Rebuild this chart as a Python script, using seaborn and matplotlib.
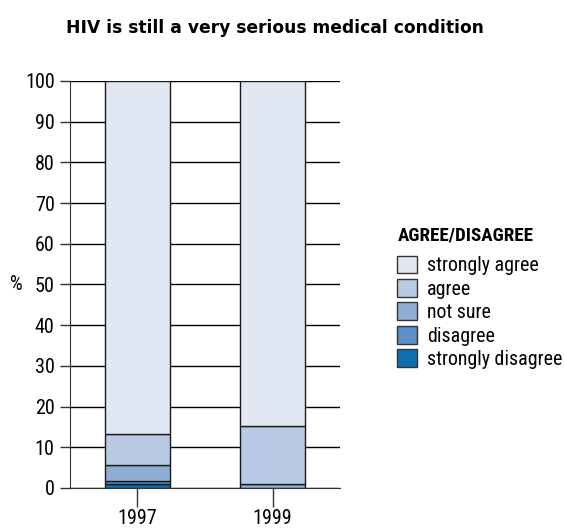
import matplotlib
matplotlib.use("Agg")
import matplotlib.pyplot as plt
import matplotlib.patches as mpatches
from matplotlib import font_manager
import seaborn as sns
import numpy as np
import pandas as pd

# data (percent)
years = ["1997", "1999"]
levels = ["strongly disagree", "disagree", "not sure", "agree", "strongly agree"]
strongly_disagree = [1.0, 0.0]
disagree = [0.8, 0.0]
not_sure = [3.8, 0.9]
agree = [7.6, 14.4]
strongly_agree = [86.8, 84.7]
yticks = [0, 10, 20, 30, 40, 50, 60, 70, 80, 90, 100]

colors = {"strongly agree": "#e1e8f3", "agree": "#b9cae5", "not sure": "#8faed6",
          "disagree": "#5b8fc7", "strongly disagree": "#0e6fb0"}

sns.set_style("white")
names = {f.name for f in font_manager.fontManager.ttflist}
fams = [f for f in ["Liberation Sans Narrow", "DejaVu Sans Condensed", "Roboto Condensed"] if f in names]
plt.rcParams['font.family'] = fams + ['Liberation Sans', 'DejaVu Sans']
plt.rcParams['text.color'] = 'black'
plt.rcParams['xtick.color'] = 'black'
plt.rcParams['ytick.color'] = 'black'
plt.rcParams['axes.labelcolor'] = 'black'

series = dict(zip(levels, [strongly_disagree, disagree, not_sure, agree, strongly_agree]))

fig = plt.figure(figsize=(5.64, 5.28), dpi=100)
ax = fig.add_axes([0.124, 0.0758, 0.479, 0.7708])

bottom = np.zeros(len(years))
for lev in levels:
    df = pd.DataFrame({"year": years, "pct": series[lev]})
    sns.barplot(data=df, x="year", y="pct", bottom=bottom, color=colors[lev],
                width=0.48, edgecolor="#1a1a1a", linewidth=1.0, saturation=1,
                zorder=3, ax=ax)
    bottom = bottom + np.array(series[lev])

ax.set_xlim(-0.5, 1.5)
ax.set_ylim(0, 100)
ax.set_yticks(yticks)
ax.yaxis.grid(True, color="black", linewidth=1.0, zorder=0)
ax.set_axisbelow(True)
for s in ["top", "right"]:
    ax.spines[s].set_visible(False)
ax.spines["left"].set_color("#333333")
ax.spines["bottom"].set_color("#333333")
ax.tick_params(axis="y", left=True, length=7, width=1, color="#333333", labelsize=14.5, pad=4)
ax.tick_params(axis="x", bottom=True, length=14, width=1, color="#333333", labelsize=14.5, pad=1)
ax.set_xlabel("")
ax.set_ylabel("%", fontsize=14.5, rotation=0, va="center", ha="center")
ax.yaxis.set_label_coords(-0.2, 0.5)

fig.text(0.4876, 0.947, "HIV is still a very serious medical condition",
         ha="center", va="center", fontsize=12.3, fontweight="bold",
         family=['DejaVu Sans'])

# legend title as separate text
fig.text(0.706, 0.554, "AGREE/DISAGREE", ha="left", va="center",
         fontsize=13.7, fontweight="bold")

handles = [mpatches.Patch(facecolor=colors[l], edgecolor="#333333", linewidth=1, label=l)
           for l in levels[::-1]]
leg = fig.legend(handles=handles, loc="upper left", bbox_to_anchor=(0.704, 0.516),
                 frameon=False, fontsize=14.3,
                 handlelength=1.0, handleheight=1.0, handletextpad=0.5,
                 labelspacing=0.19, borderpad=0, borderaxespad=0)

fig.savefig("out.png", dpi=100)
